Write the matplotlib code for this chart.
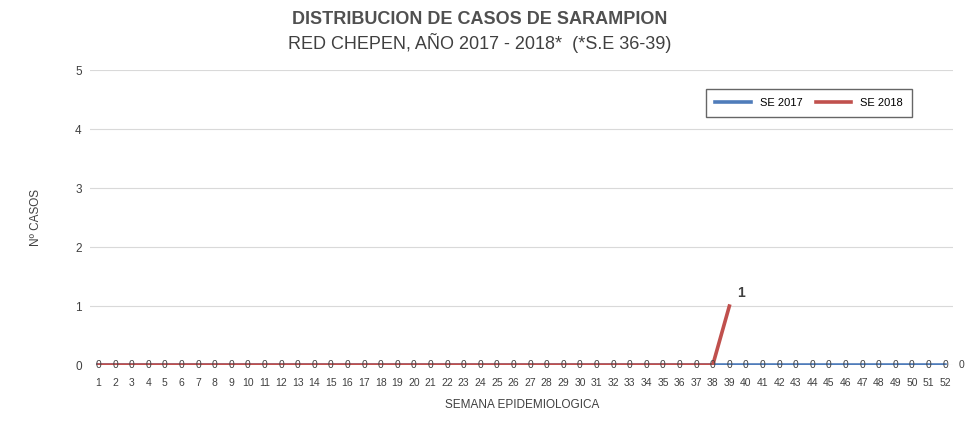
import matplotlib
matplotlib.use('Agg')
import matplotlib.pyplot as plt

plt.rcParams['font.family'] = ['Liberation Sans Narrow', 'Liberation Sans', 'DejaVu Sans']

# Data
semanas = list(range(1, 53))
casos_2017 = [0] * 52
casos_2018 = [0] * 38 + [1]
etiquetas = [str(s) for s in semanas]

color_2017 = '#4f7cba'
color_2018 = '#c0504d'
texto = '#404040'

fig = plt.figure(figsize=(9.69, 4.25), dpi=100)
ax = fig.add_axes([0.093, 0.141, 0.891, 0.694])

ax.plot(semanas, casos_2017, color=color_2017, lw=2.6, label='SE 2017', zorder=3)
ax.plot(semanas[:len(casos_2018)], casos_2018, color=color_2018, lw=2.6, label='SE 2018', zorder=4)

# Data labels
for s, v in zip(semanas, casos_2017):
    ax.text(s, v, str(v), ha='center', va='center', fontsize=7.5, color=texto, zorder=5)
ax.text(53, 0, '0', ha='center', va='center', fontsize=7.5, color=texto, clip_on=False)
ax.text(semanas[len(casos_2018) - 1] + 0.7, casos_2018[-1] + 0.1, str(casos_2018[-1]),
        ha='center', va='bottom', fontsize=10, fontweight='bold', color=texto)

ax.set_xlim(0.5, 52.5)
ax.set_ylim(0, 5)
ax.set_xticks(semanas)
ax.set_xticklabels(etiquetas, fontsize=7.5, color=texto)
ax.set_yticks(range(0, 6))
ax.tick_params(axis='both', length=0, pad=6, labelsize=8.5, colors=texto)
ax.tick_params(axis='x', labelsize=7.5, pad=9)
ax.grid(axis='y', color='#d9d9d9', lw=0.8)
for sp in ax.spines.values():
    sp.set_visible(False)

ax.set_xlabel('SEMANA EPIDEMIOLOGICA', fontsize=8.5, color=texto, labelpad=8)
ax.set_ylabel('Nº CASOS', fontsize=8.5, color=texto, labelpad=24)

fig.text(0.495, 0.955, 'DISTRIBUCION DE CASOS DE SARAMPION', ha='center', va='center',
         fontsize=13, fontweight='bold', color='#505050')
fig.text(0.495, 0.898, 'RED CHEPEN, AÑO 2017 - 2018*  (*S.E 36-39)', ha='center', va='center',
         fontsize=13, color='#404040')

leg = ax.legend(loc='upper right', bbox_to_anchor=(0.958, 0.955), ncol=2, fontsize=8,
                frameon=True, fancybox=False, edgecolor='#404040', handlelength=3.2,
                columnspacing=1.2, borderpad=0.8)
leg.get_frame().set_linewidth(1.0)

plt.savefig('out.png', dpi=100)
